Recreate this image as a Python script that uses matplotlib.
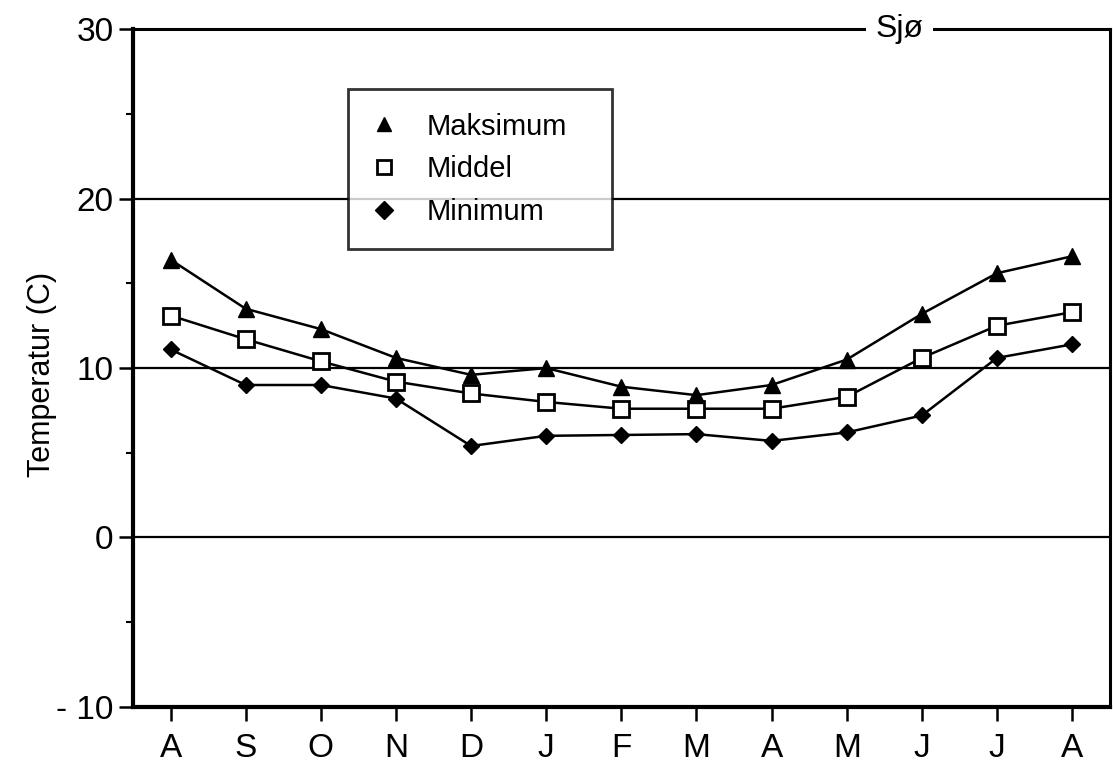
import matplotlib.pyplot as plt

plt.rcParams['font.family'] = ['Liberation Sans', 'DejaVu Sans']

# Monthly sea temperatures (Aug - Aug)
months = ['A', 'S', 'O', 'N', 'D', 'J', 'F', 'M', 'A', 'M', 'J', 'J', 'A']
maksimum = [16.4, 13.5, 12.3, 10.6, 9.6, 10.0, 8.9, 8.4, 9.0, 10.5, 13.2, 15.6, 16.6]
middel = [13.1, 11.7, 10.4, 9.2, 8.5, 8.0, 7.6, 7.6, 7.6, 8.3, 10.6, 12.5, 13.3]
minimum = [11.1, 9.0, 9.0, 8.2, 5.4, 6.0, 6.05, 6.1, 5.7, 6.2, 7.2, 10.6, 11.4]
gridlines = [0, 10, 20]

fig = plt.figure(figsize=(11.13, 7.7), dpi=100)
ax = fig.add_axes([0.1195, 0.082, 0.8775, 0.88])

x = list(range(len(months)))

for g in gridlines:
    ax.axhline(g, color='black', lw=1.6, zorder=1)

ax.plot(x, minimum, '-', color='black', lw=1.8, marker='D', markersize=8,
        markerfacecolor='black', label='Minimum', zorder=3)
ax.plot(x, middel, '-', color='black', lw=1.8, marker='s', markersize=11,
        markerfacecolor='white', markeredgewidth=2, label='Middel', zorder=4)
ax.plot(x, maksimum, '-', color='black', lw=1.8, marker='^', markersize=11,
        markerfacecolor='black', label='Maksimum', zorder=5)

ax.set_xlim(-0.5, 12.5)
ax.set_ylim(-10, 30)
ax.set_xticks(x)
ax.set_xticklabels(months)
ax.set_yticks([-10, 0, 10, 20, 30])
ax.set_yticklabels(['- 10', '0', '10', '20', '30'])
ax.set_yticks([-5, 5, 15, 25], minor=True)

ax.tick_params(axis='both', direction='out', length=10, width=1.8,
               labelsize=24, pad=4)
ax.tick_params(axis='y', which='minor', direction='out', length=5, width=1.5)
ax.tick_params(axis='x', pad=9)

for s in ['left', 'bottom']:
    ax.spines[s].set_linewidth(3)
for s in ['top', 'right']:
    ax.spines[s].set_linewidth(2.2)

ax.set_ylabel('Temperatur (C)', fontsize=22)
ax.yaxis.set_label_coords(-0.078, 0.49)

# title sitting on the top frame
ax.text(0.785, 1.0, 'Sjø', transform=ax.transAxes, fontsize=23,
        ha='center', va='center',
        bbox=dict(facecolor='white', edgecolor='none', pad=7), zorder=10)

handles, labels = ax.get_legend_handles_labels()
leg = ax.legend(handles[::-1], labels[::-1], loc='upper left',
                bbox_to_anchor=(0.220, 0.5, 0.270, 0.4115), mode='expand',
                fontsize=21, frameon=True, fancybox=False,
                handlelength=0.9, handletextpad=1.0,
                borderpad=0.8, labelspacing=0.5, borderaxespad=0)
for h in leg.legend_handles:
    h.set_linestyle('none')
leg.get_frame().set_edgecolor('black')
leg.get_frame().set_linewidth(2)
leg.legend_handles[2].set_markersize(9)
leg.legend_handles[1].set_markersize(10)
leg.legend_handles[0].set_markersize(10)

fig.savefig('out.png', dpi=100)
